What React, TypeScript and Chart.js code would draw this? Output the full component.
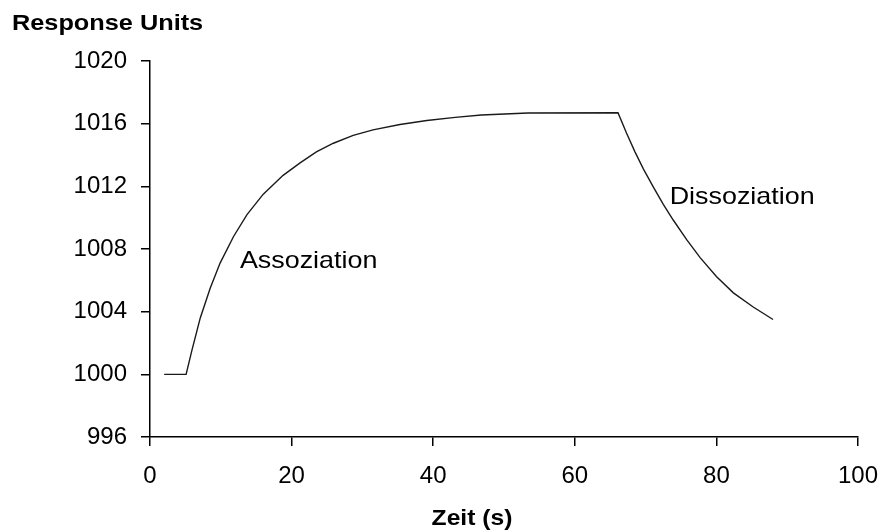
import React, { useEffect, useRef } from "react";
import { Chart, registerables } from "chart.js";

Chart.register(...registerables);

const timeValues = [2, 5.1, 5.9, 7.1, 8.5, 9.9, 11.8, 13.7, 16.0, 18.8, 21.2, 23.5, 25.9, 28.7, 31.5, 35.3, 39.1, 43.1, 46.8, 53.4, 66.1, 67.3, 68.5, 69.7, 71.1, 72.5, 73.9, 75.8, 77.7, 80.0, 82.4, 85.2, 88.0];
const responseValues = [1000, 1000, 1001.5, 1003.6, 1005.5, 1007.1, 1008.8, 1010.2, 1011.5, 1012.7, 1013.5, 1014.2, 1014.75, 1015.25, 1015.6, 1015.95, 1016.2, 1016.4, 1016.55, 1016.68, 1016.7, 1015.4, 1014.2, 1013.1, 1011.95, 1010.85, 1009.85, 1008.6, 1007.45, 1006.25, 1005.2, 1004.3, 1003.5];
const xTicks = [0, 20, 40, 60, 80, 100];
const yTicks = [996, 1000, 1004, 1008, 1012, 1016, 1020];
const annotations = [
  { text: "Assoziation", x: 12.7, y: 1007.2 },
  { text: "Dissoziation", x: 73.4, y: 1011.3 },
];
const yTitle = "Response Units";
const xTitle = "Zeit (s)";

const FONT = "'Liberation Sans', Arial, sans-serif";

const textPlugin = {
  id: "texts",
  afterDraw(chart: any) {
    const ctx = chart.ctx;
    const xs = chart.scales.x;
    const ys = chart.scales.y;
    ctx.save();
    ctx.fillStyle = "#000";
    ctx.textBaseline = "middle";
    ctx.font = `24px ${FONT}`;
    ctx.textAlign = "left";
    for (const a of annotations) {
      const px = xs.getPixelForValue(a.x);
      const py = ys.getPixelForValue(a.y);
      ctx.save();
      ctx.translate(px, py);
      ctx.scale(1.12, 1);
      ctx.fillText(a.text, 0, 0);
      ctx.restore();
    }
    ctx.font = `bold 22px ${FONT}`;
    ctx.save();
    ctx.translate(12, 24);
    ctx.scale(1.15, 1);
    ctx.fillText(yTitle, 0, 0);
    ctx.restore();
    ctx.save();
    ctx.translate(472, 519);
    ctx.scale(1.12, 1);
    ctx.textAlign = "center";
    ctx.fillText(xTitle, 0, 0);
    ctx.restore();
    ctx.restore();
  },
};

export default function App() {
  const ref = useRef<HTMLCanvasElement>(null);
  useEffect(() => {
    if (!ref.current) return;
    const chart = new Chart(ref.current, {
      type: "line",
      data: {
        datasets: [
          {
            data: timeValues.map((t, i) => ({ x: t, y: responseValues[i] })),
            borderColor: "#1a1a1a",
            borderWidth: 1.4,
            pointRadius: 0,
            tension: 0,
            fill: false,
          },
        ],
      },
      options: {
        animation: false,
        responsive: false,
        maintainAspectRatio: false,
        layout: { padding: { top: 61, right: 26, left: 0, bottom: 0 } },
        plugins: { legend: { display: false }, tooltip: { enabled: false } },
        scales: {
          x: {
            type: "linear",
            min: 0,
            max: 100,
            afterBuildTicks: (s: any) => {
              s.ticks = xTicks.map((v) => ({ value: v }));
            },
            afterFit: (s: any) => {
              s.height = 95;
              s.paddingRight = 0;
              s.paddingLeft = 0;
            },
            border: { display: true, color: "#000", width: 1.5 },
            grid: { drawOnChartArea: false, drawTicks: true, tickLength: 9, color: "#000", lineWidth: 1.5 },
            ticks: { color: "#000", font: { family: FONT, size: 24 }, padding: 16, maxRotation: 0, callback: (v: any) => String(v) },
          },
          y: {
            type: "linear",
            min: 996,
            max: 1020,
            afterBuildTicks: (s: any) => {
              s.ticks = yTicks.map((v) => ({ value: v }));
            },
            afterFit: (s: any) => {
              s.width = 150;
            },
            border: { display: true, color: "#000", width: 1.5 },
            grid: { drawOnChartArea: false, drawTicks: true, tickLength: 9, color: "#000", lineWidth: 1.5 },
            ticks: { color: "#000", font: { family: FONT, size: 24 }, padding: 14, callback: (v: any) => String(v) },
          },
        },
      },
      plugins: [textPlugin],
    } as any);
    return () => chart.destroy();
  }, []);
  return (
    <div style={{ position: "fixed", left: 0, top: 0, width: 884, height: 532, background: "#fff" }}>
      <canvas ref={ref} width={884} height={532} style={{ width: 884, height: 532 }} />
    </div>
  );
}
